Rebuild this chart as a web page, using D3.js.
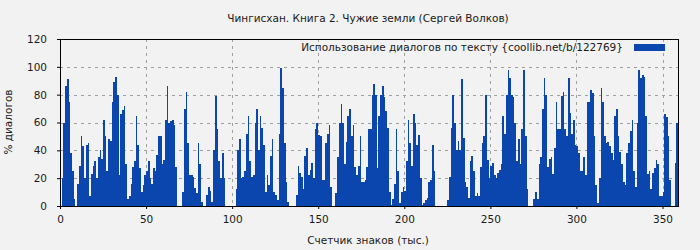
<!DOCTYPE html>
<html>
<head>
<meta charset="utf-8">
<script src="https://cdn.jsdelivr.net/npm/d3@7"></script>
<style>
  body { margin: 0; background: #f2f2f2; }
  svg text { font-family: "DejaVu Sans", sans-serif; fill: #1a1a1a; }
</style>
</head>
<body>
<div id="chart"></div>
<script>
// dialog share (%) per thousand characters of text
var dialogShare = [
  0, 20, 60, 86, 91, 75, 38, 25, 5, 0,
  16, 29, 50, 43, 20, 44, 45, 7, 23, 29,
  32, 20, 35, 40, 34, 62, 50, 25, 48, 47,
  75, 89, 93, 80, 22, 66, 69, 72, 30, 5,
  7, 16, 28, 32, 65, 44, 27, 10, 15, 22,
  25, 32, 20, 16, 27, 25, 37, 50, 50, 30,
  33, 62, 86, 60, 61, 62, 58, 28, 0, 0,
  0, 10, 70, 82, 45, 22, 22, 21, 13, 9,
  45, 30, 3, 0, 0, 8, 14, 11, 3, 40,
  79, 55, 32, 20, 38, 20, 0, 0, 0, 0,
  0, 0, 12, 40, 48, 20, 21, 25, 52, 65,
  32, 21, 22, 60, 70, 40, 65, 56, 44, 10,
  22, 15, 36, 48, 10, 8, 4, 52, 99, 85,
  45, 17, 3, 0, 0, 0, 0, 8, 29, 24,
  21, 12, 36, 42, 22, 26, 31, 20, 55, 60,
  51, 50, 19, 19, 45, 52, 58, 14, 0, 0,
  9, 35, 60, 73, 60, 30, 46, 65, 70, 50,
  58, 28, 22, 29, 50, 17, 17, 19, 28, 55,
  55, 80, 88, 80, 27, 65, 80, 86, 78, 68,
  56, 10, 1, 5, 16, 55, 25, 2, 10, 14,
  11, 32, 62, 45, 29, 66, 60, 44, 51, 20,
  1, 2, 4, 6, 17, 19, 44, 25, 0, 0,
  0, 0, 0, 0, 0, 4, 21, 56, 80, 60,
  40, 47, 40, 91, 49, 17, 14, 6, 32, 36,
  25, 7, 9, 7, 28, 45, 50, 80, 33, 20,
  29, 31, 22, 20, 24, 26, 30, 65, 52, 80,
  98, 92, 80, 78, 60, 32, 48, 30, 55, 98,
  50, 12, 0, 0, 0, 5, 10, 5, 30, 35,
  70, 92, 80, 28, 34, 35, 23, 42, 75, 55,
  55, 79, 82, 55, 50, 92, 67, 52, 62, 44,
  43, 38, 25, 25, 35, 22, 75, 75, 83, 81,
  50, 15, 2, 20, 85, 75, 50, 45, 46, 43,
  38, 33, 65, 70, 50, 39, 30, 17, 15, 38,
  45, 54, 62, 25, 14, 60, 98, 92, 94, 93,
  65, 23, 25, 12, 24, 27, 33, 30, 7, 7,
  10, 66, 64, 50, 19, 0, 0, 31, 60
];
var xTicks = [0, 50, 100, 150, 200, 250, 300, 350];
var yTicks = [0, 20, 40, 60, 80, 100, 120];
var xGrid = [50, 100, 150, 200, 250, 300, 350];
var yGrid = [20, 40, 60, 80, 100];

var titleText = 'Чингисхан. Книга 2. Чужие земли (Сергей Волков)';
var legendText = 'Использование диалогов по тексту {coollib.net/b/122769}';
var xLabel = 'Счетчик знаков (тыс.)';
var yLabel = '% диалогов';

var W = 700, H = 250;
var margin = {top: 39, right: 22, bottom: 44, left: 60};
var width = W - margin.left - margin.right,
    height = H - margin.top - margin.bottom;
var fs = '10.5px';

var svg = d3.select('#chart').append('svg').attr('width', W).attr('height', H)
svg.append('rect').attr('width', W).attr('height', H).attr('fill', '#f2f2f2')

var g = svg.append('g').attr('transform', 'translate(' + margin.left + ',' + margin.top + ')')

var x = d3.scaleLinear().domain([0, 359]).range([0, width])
var y = d3.scaleLinear().domain([0, 120]).range([height, 0])

// grid behind the bars
g.selectAll('.hgrid').data(yGrid).enter().append('line')
  .attr('x1', 0).attr('x2', width)
  .attr('y1', function(d){ return Math.round(y(d)) + 0.5 })
  .attr('y2', function(d){ return Math.round(y(d)) + 0.5 })
  .attr('stroke', '#a0a0a0').attr('stroke-dasharray', '3,4')
g.selectAll('.vgrid').data(xGrid).enter().append('line')
  .attr('y1', 0).attr('y2', height)
  .attr('x1', function(d){ return Math.round(x(d)) + 0.5 })
  .attr('x2', function(d){ return Math.round(x(d)) + 0.5 })
  .attr('stroke', '#a0a0a0').attr('stroke-dasharray', '3,4')

g.selectAll('.bar').data(dialogShare).enter().append('rect')
  .attr('x', function(d,i){ return x(i) })
  .attr('width', function(d,i){ return x(i + 1) - x(i) })
  .attr('y', function(d){ return y(d) })
  .attr('height', function(d){ return height - y(d) })
  .attr('fill', '#0a46ad')
  .attr('shape-rendering', 'crispEdges')

// frame
g.append('rect').attr('x', 0.5).attr('y', 0.5).attr('width', width).attr('height', height)
  .attr('fill', 'none').attr('stroke', '#000')

var xAxis = g.append('g').attr('transform', 'translate(0,' + height + ')')
  .call(d3.axisBottom(x).tickValues(xTicks).tickSize(3).tickPadding(7))
var yAxis = g.append('g')
  .call(d3.axisLeft(y).tickValues(yTicks).tickSize(3).tickPadding(10))
;[xAxis, yAxis].forEach(function(a){
  a.select('.domain').remove()
  a.selectAll('line').attr('stroke', '#000')
  a.selectAll('text').style('font-size', fs).style('font-family', '"DejaVu Sans", sans-serif').attr('fill', '#1a1a1a')
})

svg.append('text').attr('x', 368).attr('y', 22).attr('text-anchor', 'middle')
  .style('font-size', fs).text(titleText)
svg.append('text').attr('x', 368).attr('y', 244).attr('text-anchor', 'middle')
  .style('font-size', fs).text(xLabel)
svg.append('text').attr('transform', 'translate(12,122) rotate(-90)').attr('text-anchor', 'middle')
  .style('font-size', fs).text(yLabel)

// legend
svg.append('text').attr('x', 623).attr('y', 51).attr('text-anchor', 'end')
  .style('font-size', fs).text(legendText)
svg.append('rect').attr('x', 634).attr('y', 44).attr('width', 31).attr('height', 7)
  .attr('fill', '#0a46ad')
</script>
</body>
</html>
